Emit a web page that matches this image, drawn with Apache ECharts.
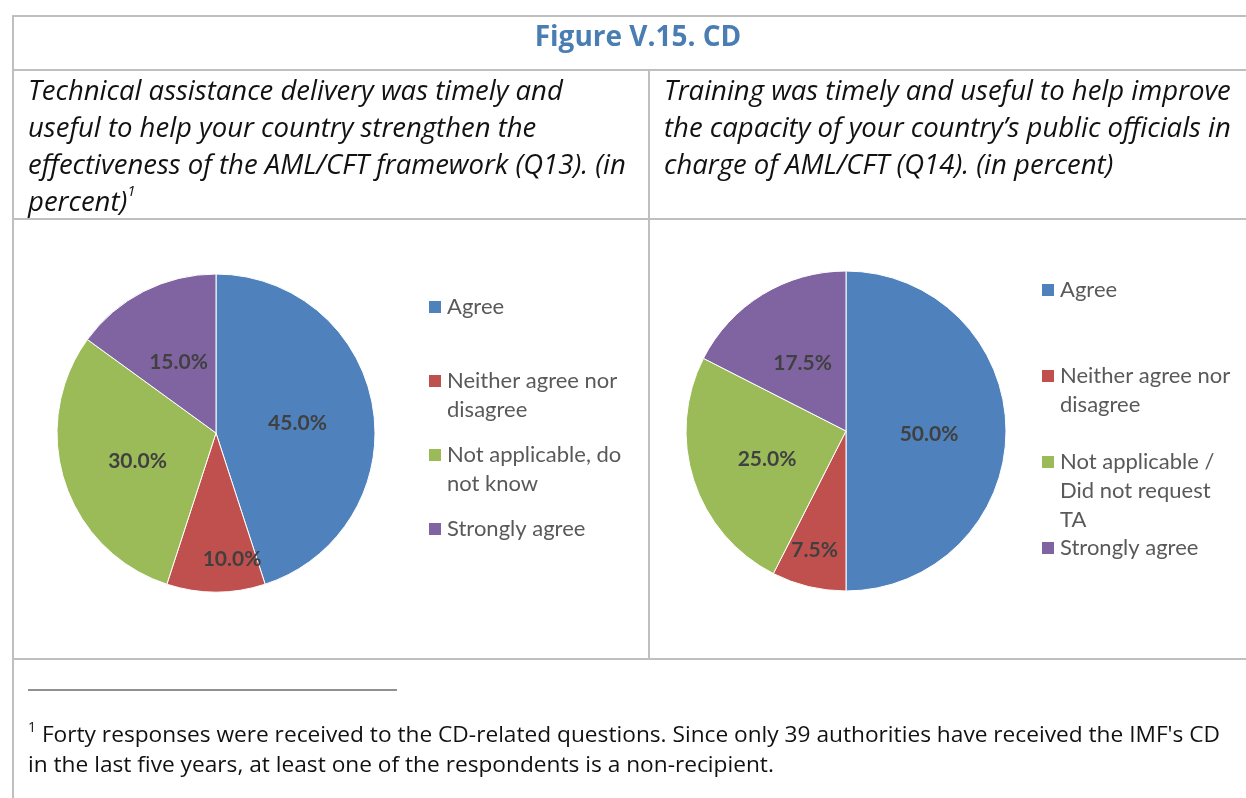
<!DOCTYPE html>
<html>
<head>
<meta charset="utf-8">
<script src="https://cdn.jsdelivr.net/npm/echarts@6/dist/echarts.min.js"></script>
<style>
  html, body { margin: 0; padding: 0; background: #fff; }
  #chart { width: 1246px; height: 798px; }
</style>
</head>
<body>
<div id="chart"></div>
<script>
// data (percent)
const categoriesQ13 = ['Agree', 'Neither agree nor\ndisagree', 'Not applicable, do\nnot know', 'Strongly agree']
const valuesQ13 = [45.0, 10.0, 30.0, 15.0]
const categoriesQ14 = ['Agree', 'Neither agree nor\ndisagree', 'Not applicable /\nDid not request\nTA', 'Strongly agree']
const valuesQ14 = [50.0, 7.5, 25.0, 17.5]
const sliceColors = ['#4f81bd', '#c0504d', '#9bbb59', '#8064a2']

const figureTitle = 'Figure V.15. CD'
const questionQ13 = 'Technical assistance delivery was timely and\nuseful to help your country strengthen the\neffectiveness of the AML/CFT framework (Q13). (in\npercent){sup|1}'
const questionQ14 = 'Training was timely and useful to help improve\nthe capacity of your country\u2019s public officials in\ncharge of AML/CFT (Q14). (in percent)'
const footnote = '{sup|1} Forty responses were received to the CD-related questions. Since only 39 authorities have received the IMF\'s CD\nin the last five years, at least one of the respondents is a non-recipient.'

// legend layout: first text line centre of each entry
const legendTopsQ13 = [307, 381, 455, 529]
const legendTopsQ14 = [290, 376, 462, 548]
const legendLineHeight = 29

const chart = echarts.init(document.getElementById('chart'))

function pieSeries(names, values, center, radius, nudge) {
  return {
    type: 'pie',
    center: center,
    radius: radius,
    startAngle: 90,
    clockwise: true,
    animation: false,
    silent: true,
    data: names.map((n, i) => ({ name: n, value: values[i], itemStyle: { color: sliceColors[i] } })),
    itemStyle: { borderColor: '#ffffff', borderWidth: 1 },
    label: {
      show: true,
      position: 'inside',
      formatter: p => p.value.toFixed(1) + '%',
      color: '#404040',
      fontFamily: 'Lato',
      fontWeight: 'bold',
      fontSize: 21
    },
    labelLine: { show: false },
    // small slice label sits near the rim, like the original
    labelLayout: p => (p.dataIndex === nudge.index ? { dx: nudge.dx, dy: nudge.dy } : { dy: 3 }),
    emphasis: { disabled: true }
  }
}

// one legend per entry so the uneven spacing of the original can be kept;
// blank lines in front keep the marker level with the first text line
function legendsFor(names, tops, left) {
  return names.map((n, i) => {
    let lines = n.split('\n').length
    return {
      data: [n],
      left: left,
      top: tops[i] - (2 * lines - 1) * legendLineHeight / 2,
      orient: 'vertical',
      padding: 0,
      icon: 'rect',
      itemWidth: 14,
      itemHeight: 14,
      selectedMode: false,
      formatter: name => '\n'.repeat(lines - 1) + name,
      textStyle: {
        color: '#595959',
        fontFamily: 'Lato',
        fontSize: 22,
        lineHeight: legendLineHeight
      }
    }
  })
}

const gridLine = { stroke: '#bfbfbf', lineWidth: 2 }
function hline(x1, x2, y) {
  return { type: 'line', shape: { x1: x1, y1: y, x2: x2, y2: y }, style: gridLine, silent: true }
}
function vline(x, y1, y2) {
  return { type: 'line', shape: { x1: x, y1: y1, x2: x, y2: y2 }, style: gridLine, silent: true }
}

const questionStyle = {
  fill: '#111111',
  font: 'italic 27.5px "Open Sans"',
  lineHeight: 37,
  rich: {
    sup: { fontSize: 15, fontStyle: 'italic', fontFamily: 'Open Sans', verticalAlign: 'top', lineHeight: 22, fill: '#111111' }
  }
}

chart.setOption({
  backgroundColor: '#ffffff',
  legend: legendsFor(categoriesQ13, legendTopsQ13, 427).concat(legendsFor(categoriesQ14, legendTopsQ14, 1040)),
  series: [
    pieSeries(categoriesQ13, valuesQ13, [216, 433], 159, { index: 1, dx: 16, dy: 44 }),
    pieSeries(categoriesQ14, valuesQ14, [846, 431], 160, { index: 1, dx: -12, dy: 39 })
  ],
  graphic: [
    hline(12, 1246, 16),
    hline(12, 1246, 70),
    hline(12, 1246, 219),
    hline(12, 1246, 659),
    vline(13, 15, 798),
    vline(649, 70, 659),
    {
      type: 'text', x: 638, y: 38, silent: true,
      style: { text: figureTitle, fill: '#4a7db2', font: 'bold 28px "Open Sans"', align: 'center', verticalAlign: 'middle' }
    },
    {
      type: 'text', x: 28, y: 73.5, silent: true,
      style: Object.assign({ text: questionQ13 }, questionStyle)
    },
    {
      type: 'text', x: 664, y: 73.5, silent: true,
      style: Object.assign({ text: questionQ14 }, questionStyle)
    },
    { type: 'line', shape: { x1: 28, y1: 690, x2: 397, y2: 690 }, style: { stroke: '#222', lineWidth: 1 }, silent: true },
    {
      type: 'text', x: 28, y: 721, silent: true,
      style: {
        text: footnote,
        fill: '#111111',
        font: '22.7px "Open Sans"',
        lineHeight: 30,
        rich: { sup: { fontSize: 14, fontFamily: 'Open Sans', verticalAlign: 'top', lineHeight: 18, fill: '#111111' } }
      }
    }
  ]
})
</script>
</body>
</html>
